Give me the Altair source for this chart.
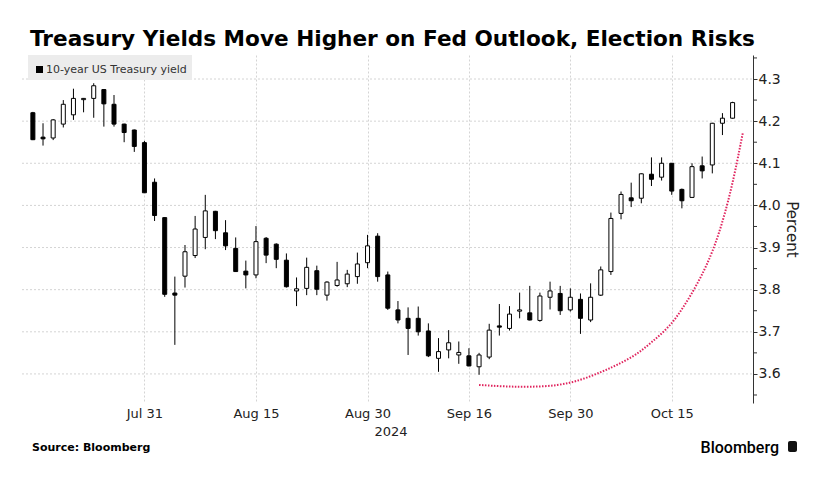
import altair as alt
import pandas as pd

# ---- data (10-year US Treasury yield, daily OHLC) ----
dates = ["Jul 16", "Jul 17", "Jul 18", "Jul 19", "Jul 22", "Jul 23", "Jul 24", "Jul 25", "Jul 26", "Jul 29",
         "Jul 30", "Jul 31", "Aug 1", "Aug 2", "Aug 5", "Aug 6", "Aug 7", "Aug 8", "Aug 9", "Aug 12",
         "Aug 13", "Aug 14", "Aug 15", "Aug 16", "Aug 19", "Aug 20", "Aug 21", "Aug 22", "Aug 23", "Aug 26",
         "Aug 27", "Aug 28", "Aug 29", "Aug 30", "Sep 3", "Sep 4", "Sep 5", "Sep 6", "Sep 9", "Sep 10",
         "Sep 11", "Sep 12", "Sep 13", "Sep 16", "Sep 17", "Sep 18", "Sep 19", "Sep 20", "Sep 23", "Sep 24",
         "Sep 25", "Sep 26", "Sep 27", "Sep 30", "Oct 1", "Oct 2", "Oct 3", "Oct 4", "Oct 7", "Oct 8",
         "Oct 9", "Oct 10", "Oct 11", "Oct 15", "Oct 16", "Oct 17", "Oct 18", "Oct 21", "Oct 22", "Oct 23"]
opens = [4.220, 4.162, 4.160, 4.193, 4.215, 4.251, 4.254, 4.275, 4.240, 4.193,
         4.179, 4.149, 4.055, 3.971, 3.792, 3.832, 3.881, 3.924, 3.986, 3.935,
         3.898, 3.844, 3.835, 3.922, 3.908, 3.870, 3.797, 3.803, 3.845, 3.787,
         3.810, 3.814, 3.831, 3.864, 3.927, 3.835, 3.752, 3.732, 3.732, 3.702,
         3.637, 3.657, 3.645, 3.643, 3.617, 3.640, 3.714, 3.708, 3.749, 3.745,
         3.727, 3.782, 3.791, 3.752, 3.777, 3.728, 3.787, 3.843, 3.981, 4.018,
         4.017, 4.074, 4.067, 4.100, 4.038, 4.019, 4.094, 4.096, 4.195, 4.207]
highs = [4.222, 4.195, 4.205, 4.250, 4.277, 4.255, 4.290, 4.276, 4.262, 4.194,
         4.180, 4.153, 4.064, 3.972, 3.831, 3.906, 3.975, 4.025, 3.987, 3.965,
         3.924, 3.869, 3.951, 3.925, 3.910, 3.886, 3.829, 3.876, 3.857, 3.820,
         3.866, 3.847, 3.888, 3.930, 3.934, 3.843, 3.773, 3.758, 3.760, 3.720,
         3.685, 3.704, 3.677, 3.661, 3.650, 3.719, 3.766, 3.761, 3.793, 3.809,
         3.793, 3.819, 3.809, 3.803, 3.791, 3.815, 3.855, 3.983, 4.033, 4.054,
         4.076, 4.114, 4.114, 4.100, 4.040, 4.100, 4.116, 4.196, 4.219, 4.246]
lows = [4.155, 4.142, 4.155, 4.185, 4.203, 4.221, 4.208, 4.187, 4.187, 4.150,
        4.127, 4.030, 3.963, 3.783, 3.669, 3.805, 3.875, 3.896, 3.920, 3.894,
        3.842, 3.803, 3.827, 3.863, 3.851, 3.805, 3.761, 3.787, 3.787, 3.774,
        3.807, 3.806, 3.814, 3.851, 3.819, 3.752, 3.720, 3.645, 3.691, 3.640,
        3.605, 3.637, 3.624, 3.618, 3.598, 3.635, 3.691, 3.703, 3.732, 3.727,
        3.724, 3.753, 3.740, 3.748, 3.695, 3.723, 3.785, 3.835, 3.967, 3.996,
        4.005, 4.046, 4.059, 4.025, 3.993, 4.018, 4.064, 4.076, 4.167, 4.206]
closes = [4.156, 4.158, 4.203, 4.240, 4.254, 4.254, 4.284, 4.241, 4.193, 4.173,
          4.140, 4.030, 3.976, 3.789, 3.787, 3.890, 3.944, 3.987, 3.940, 3.904,
          3.843, 3.835, 3.914, 3.882, 3.872, 3.807, 3.802, 3.853, 3.801, 3.818,
          3.823, 3.837, 3.861, 3.904, 3.831, 3.756, 3.728, 3.708, 3.700, 3.643,
          3.653, 3.674, 3.651, 3.619, 3.645, 3.704, 3.711, 3.742, 3.752, 3.728,
          3.785, 3.797, 3.750, 3.782, 3.732, 3.782, 3.847, 3.969, 4.026, 4.011,
          4.075, 4.062, 4.100, 4.034, 4.011, 4.092, 4.082, 4.195, 4.207, 4.244]

# red dotted annotation curve (trading-day index, percent)
curve_idx = [44.0, 46.5, 49.0, 51.8, 54.0, 56.0, 57.6, 59.5, 61.0, 62.8, 64.1, 65.4, 66.5, 67.6, 68.9, 70.0]
curve_val = [3.574, 3.570, 3.569, 3.572, 3.585, 3.604, 3.621, 3.645, 3.675, 3.712, 3.756, 3.808, 3.860, 3.926, 4.037, 4.171]

x_label_dates = ["Jul 31", "Aug 15", "Aug 30", "Sep 16", "Sep 30", "Oct 15"]
y_label_vals = [3.6, 3.7, 3.8, 3.9, 4.0, 4.1, 4.2, 4.3]
y_minor_vals = [3.55, 3.65, 3.75, 3.85, 3.95, 4.05, 4.15, 4.25, 4.35]

title_text = "Treasury Yields Move Higher on Fed Outlook, Election Risks"
legend_text = "10-year US Treasury yield"
source_text = "Source: Bloomberg"
brand_text = "Bloomberg"
year_text = "2024"
y_title = "Percent"

# ---- build tables ----
df = pd.DataFrame({"date": dates, "open": opens, "high": highs, "low": lows, "close": closes})
df["i"] = range(len(df))
df["dir"] = ["up" if c >= o else "down" for o, c in zip(opens, closes)]
curve = pd.DataFrame({"i": curve_idx, "v": curve_val})
grid = pd.DataFrame({"v": y_label_vals})
minor = pd.DataFrame({"v": y_minor_vals})

W, H = 731, 348
label_pos = [dates.index(d) for d in x_label_dates]
label_expr = "".join(f"datum.value == {p} ? '{d}' : " for p, d in zip(label_pos, x_label_dates)) + "''"

xs = alt.Scale(domain=[-0.58, 70.52], nice=False, zero=False)
ys = alt.Scale(domain=[3.531, 4.357], nice=False, zero=False)

x_axis = alt.Axis(values=label_pos, labelExpr=label_expr, title=None, domain=False, ticks=False,
                  grid=True, gridColor="#d4d4d4", gridDash=[2, 2], gridWidth=1,
                  labelFont="DejaVu Sans", labelFontSize=13, labelColor="#222222", labelPadding=4,
                  labelFlush=False, labelOverlap=False)
y_axis = alt.Axis(orient="right", values=y_label_vals, format=".1f", grid=False, title=y_title,
                  labelOverlap=False, labelFlush=False,
                  domain=True, domainColor="#333333", domainWidth=1, tickColor="#333333", tickSize=4,
                  labelFont="DejaVu Sans", labelFontSize=14, labelColor="#222222", labelPadding=1,
                  titleFont="DejaVu Sans", titleFontSize=15, titleFontWeight="normal", titleColor="#222222",
                  titleAngle=90, titlePadding=3)

base = alt.Chart(df)

hgrid = alt.Chart(grid).mark_rule(color="#d4d4d4", strokeDash=[2, 2], strokeWidth=1).encode(
    y=alt.Y("v:Q", scale=ys, axis=y_axis), x=alt.value(0), x2=alt.value(W))

minor_ticks = alt.Chart(minor).mark_rule(color="#333333", strokeWidth=1).encode(
    y=alt.Y("v:Q", scale=ys), x=alt.value(W), x2=alt.value(W + 4))

wicks = base.mark_rule(color="#000000", strokeWidth=1).encode(
    x=alt.X("i:Q", scale=xs, axis=x_axis),
    y=alt.Y("low:Q", scale=ys),
    y2="high:Q")

bodies = base.mark_bar(size=4, stroke="#000000", strokeWidth=1).encode(
    x=alt.X("i:Q", scale=xs),
    y=alt.Y("open:Q", scale=ys),
    y2="close:Q",
    fill=alt.Fill("dir:N", scale=alt.Scale(domain=["up", "down"], range=["#ffffff", "#000000"]), legend=None))

red = alt.Chart(curve).mark_line(color="#e0245e", strokeWidth=2, strokeDash=[1.5, 1.5],
                                 interpolate="basis").encode(
    x=alt.X("i:Q", scale=xs), y=alt.Y("v:Q", scale=ys))

one = pd.DataFrame({"t": [0]})
legend_box = alt.Chart(one).mark_rect(color="#ececec").encode(
    x=alt.value(6), x2=alt.value(170), y=alt.value(0), y2=alt.value(25))
legend_sq = alt.Chart(one).mark_rect(color="#000000").encode(
    x=alt.value(14), x2=alt.value(21), y=alt.value(11), y2=alt.value(18))
legend_lbl = alt.Chart(pd.DataFrame({"t": [legend_text]})).mark_text(
    align="left", baseline="alphabetic", font="DejaVu Sans", fontSize=11, color="#333333").encode(
    text="t:N", x=alt.value(24), y=alt.value(18))

title = alt.Chart(pd.DataFrame({"t": [title_text]})).mark_text(
    align="left", baseline="alphabetic", font="DejaVu Sans", fontSize=21.6, fontWeight="bold",
    color="#000000").encode(text="t:N", x=alt.value(8), y=alt.value(-9))

year = alt.Chart(pd.DataFrame({"t": [year_text]})).mark_text(
    align="center", baseline="alphabetic", font="DejaVu Sans", fontSize=13, color="#222222").encode(
    text="t:N", x=alt.value(369), y=alt.value(381))

source = alt.Chart(pd.DataFrame({"t": [source_text]})).mark_text(
    align="left", baseline="alphabetic", font="DejaVu Sans", fontSize=11, fontWeight="bold",
    color="#000000").encode(text="t:N", x=alt.value(10), y=alt.value(396))

brand = alt.Chart(pd.DataFrame({"t": [brand_text]})).mark_text(
    align="right", baseline="alphabetic", font="Roboto", fontSize=16, fontWeight=500,
    color="#000000").encode(text="t:N", x=alt.value(757), y=alt.value(398))

icon = alt.Chart(one).mark_rect(color="#111111", cornerRadius=2).encode(
    x=alt.value(766), x2=alt.value(775), y=alt.value(386), y2=alt.value(397))

chart = alt.layer(hgrid, minor_ticks, wicks, bodies, red, legend_box, legend_sq, legend_lbl,
                  title, year, source, brand, icon).properties(
    width=W, height=H,
    padding={"left": 14, "top": 47, "right": 60, "bottom": 60},
    autosize=alt.AutoSizeParams(type="none"),
    background="#ffffff",
).configure_view(stroke=None)

chart.save("out.html", embed_options={"renderer": "svg", "actions": False})
